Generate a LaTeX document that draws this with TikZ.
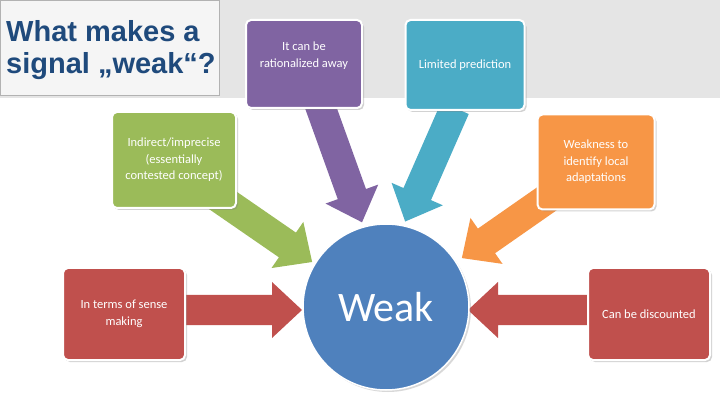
\documentclass[tikz,border=0pt]{standalone}
\usepackage{fontspec}
\setmainfont{Carlito}
\newfontfamily\titlefont{Liberation Sans}
\usetikzlibrary{shadows}
\definecolor{cred}{HTML}{C0504D}
\definecolor{cgreen}{HTML}{9BBB59}
\definecolor{cpurple}{HTML}{8064A2}
\definecolor{cteal}{HTML}{4BACC6}
\definecolor{corange}{HTML}{F79646}
\definecolor{cblue}{HTML}{4F81BD}
\definecolor{ctitle}{HTML}{1F4A7C}
\newcommand{\blockarr}[4]{% tail, angle, length, colour
  \fill[#4,shift={(#1)},rotate=#2] (0,-15) -- (#3-30,-15) -- (#3-30,-28) -- (#3,0) -- (#3-30,28) -- (#3-30,15) -- (0,15) -- cycle;}
\begin{document}
\begin{tikzpicture}[x=1pt,y=-1pt,
  box/.style={draw=white,line width=2pt,rounded corners=5pt,minimum width=122pt,minimum height=92pt,text=white,align=center,font=\fontsize{12.5}{16.5}\selectfont,drop shadow={opacity=0.35,shadow xshift=2pt,shadow yshift=-2pt},inner sep=3pt}]
\useasboundingbox (0,0) rectangle (720,403);
\fill[gray!20] (0,0) rectangle (720,98);
\fill[white] (0,98) rectangle (720,403);
\node[draw=gray!60,fill=gray!8,minimum width=219pt,minimum height=95pt,anchor=north west,inner sep=0pt] (tbox) at (0,0) {};
\node[anchor=north west,align=left,text=ctitle,font=\titlefont\bfseries\fontsize{29}{32}\selectfont,inner sep=0pt] (title) at (6,20) {What makes a\\signal „weak“?};
% arrow tails
\coordinate (t1) at (180,310);
\coordinate (t2) at (592,310);
\coordinate (t3) at (215,195);
\coordinate (t4) at (318,100);
\coordinate (t5) at (455,108);
\coordinate (t6) at (548,198);
\blockarr{t1}{0}{122}{cred}
\blockarr{t2}{180}{124}{cred}
\blockarr{t3}{-34.6}{118}{cgreen}
\blockarr{t4}{-70.2}{130}{cpurple}
\blockarr{t5}{-113.7}{124}{cteal}
\blockarr{t6}{-145.1}{105}{corange}
% boxes
\node[box,fill=cred] (b1) at (124,314) {In terms of sense\\making};
\node[box,fill=cgreen,minimum width=124pt,minimum height=96pt] (b2) at (174,160) {Indirect/imprecise\\(essentially\\contested concept)};
\node[box,fill=cpurple,minimum width=116pt,minimum height=88pt] (b3) at (304,64) {It can be\\rationalized away\\[2pt]};
\node[box,fill=cteal,minimum width=119pt,minimum height=90pt] (b4) at (465,65) {Limited prediction};
\node[box,fill=corange,minimum width=117pt,minimum height=95pt] (b5) at (596,162) {Weakness to\\identify local\\adaptations};
\node[box,fill=cred] (b6) at (649,314) {Can be discounted};
% circle
\node[circle,draw=white,line width=1.5pt,fill=cblue,minimum size=166pt,text=white,font=\fontsize{42}{46}\selectfont,drop shadow={opacity=0.3,shadow xshift=2pt,shadow yshift=-2pt}] (w) at (386,307) {Weak};
\end{tikzpicture}
\end{document}
